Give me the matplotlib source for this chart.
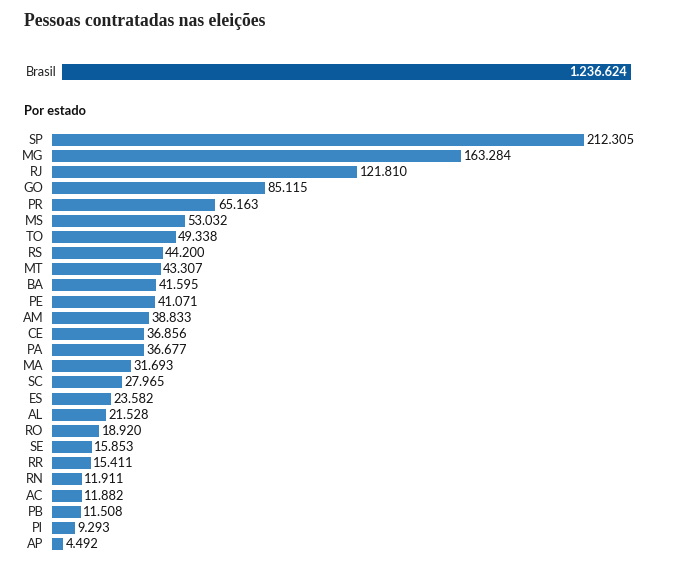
import matplotlib
matplotlib.use("Agg")
import matplotlib.pyplot as plt

# dados
estados = ["SP", "MG", "RJ", "GO", "PR", "MS", "TO", "RS", "MT", "BA", "PE", "AM", "CE",
           "PA", "MA", "SC", "ES", "AL", "RO", "SE", "RR", "RN", "AC", "PB", "PI", "AP"]
contratados = [212305, 163284, 121810, 85115, 65163, 53032, 49338, 44200, 43307, 41595,
               41071, 38833, 36856, 36677, 31693, 27965, 23582, 21528, 18920, 15853,
               15411, 11911, 11882, 11508, 9293, 4492]
brasil = 1236624

def fmt(v):
    return f"{v:,}".replace(",", ".")

W, H = 674, 575
fig = plt.figure(figsize=(W / 100, H / 100), dpi=100)
fig.patch.set_facecolor("white")

def px_axes(x0, y0, x1, y1):
    return fig.add_axes([x0 / W, 1 - y1 / H, (x1 - x0) / W, (y1 - y0) / H])

sans = "Lato"

fig.text(24 / W, 1 - 22 / H, "Pessoas contratadas nas eleições", fontsize=12.7,
         fontweight="bold", family="Liberation Serif", color="#222222", va="center", ha="left")

# Brasil
axb = px_axes(62, 64, 631, 80)
axb.barh([0], [brasil], height=1, color="#0b5b9c")
axb.set_xlim(0, brasil)
axb.set_ylim(-0.5, 0.5)
axb.axis("off")
axb.text(-0.009 * brasil, 0, "Brasil", ha="right", va="center", fontsize=9.2, family=sans, color="#222222")
axb.text(brasil * 0.992, 0, fmt(brasil), ha="right", va="center", fontsize=9.2,
         fontweight="bold", family=sans, color="white")

fig.text(24 / W, 1 - 111 / H, "Por estado", fontsize=9.3, fontweight="bold", family=sans,
         color="#111111", va="center", ha="left")

# estados
ax = px_axes(52, 131.9, 584, 552.1)
ypos = list(range(len(estados)))
ax.barh(ypos, contratados, height=0.74, color="#3a87c3")
ax.set_xlim(0, max(contratados))
ax.set_ylim(len(estados) - 0.5, -0.5)
ax.axis("off")
for y, e, v in zip(ypos, estados, contratados):
    ax.text(-3400, y, e, ha="right", va="center", fontsize=9.3, family=sans, color="#222222")
    ax.text(v + 1000, y, fmt(v), ha="left", va="center", fontsize=9.3, family=sans, color="#111111")

fig.savefig("out.png", dpi=100, facecolor="white")
